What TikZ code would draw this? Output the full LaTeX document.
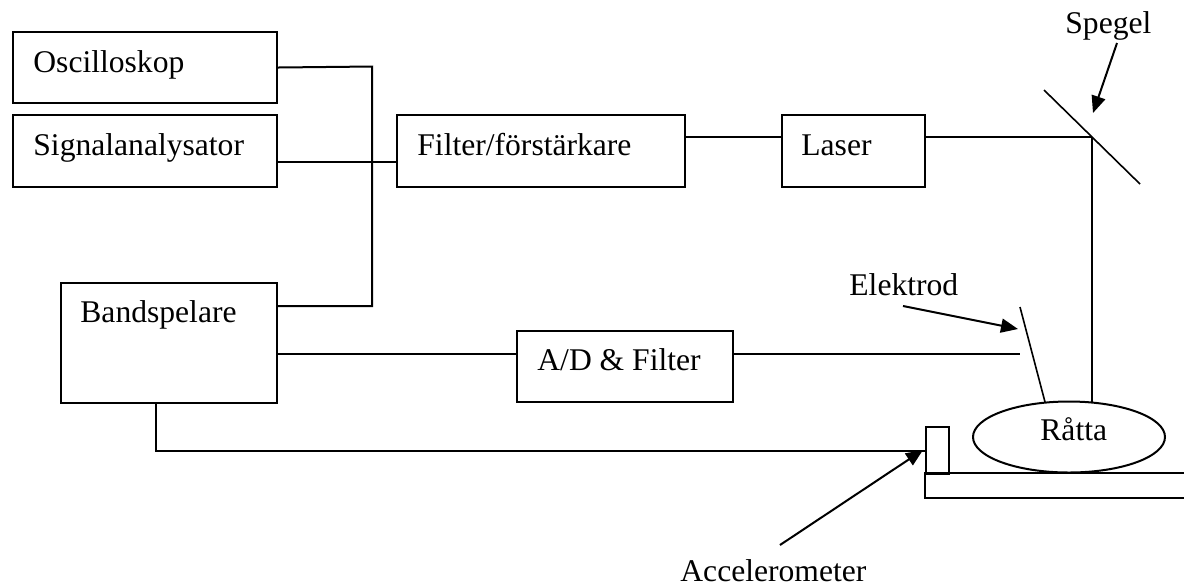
\documentclass[tikz,border=0pt]{standalone}
\usepackage{fontspec}
\setmainfont{Liberation Serif}
\usetikzlibrary{arrows.meta,shapes.geometric}
\begin{document}
\begin{tikzpicture}[x=0.5pt,y=-0.5pt,
  every node/.style={font=\fontsize{15.8pt}{18pt}\selectfont, inner sep=0pt},
  box/.style={draw, line width=1pt, rectangle, anchor=north west, inner sep=0pt},
  wire/.style={line width=1pt},
  thinline/.style={line width=0.8pt},
  lbl/.style={anchor=base west},
  pointer/.style={line width=1pt, -{Triangle[length=8.5pt,width=7pt]}}]
\useasboundingbox (0,0) rectangle (1184,586);

% boxes
\node[box, minimum width=132pt, minimum height=35.5pt] (osc) at (12,31) {};
\node[lbl] (osct) at (33,72) {Oscilloskop};
\node[box, minimum width=132pt, minimum height=36pt] (sig) at (12,114) {};
\node[lbl] (sigt) at (33,155) {Signalanalysator};
\node[box, minimum width=144pt, minimum height=36pt] (filt) at (396,114) {};
\node[lbl] (filtt) at (417,155) {Filter/förstärkare};
\node[box, minimum width=71.5pt, minimum height=36pt] (laser) at (781,114) {};
\node[lbl] (lasert) at (801,155) {Laser};
\node[box, minimum width=108pt, minimum height=60pt] (band) at (60,282) {};
\node[lbl] (bandt) at (80,322) {Bandspelare};
\node[box, minimum width=108pt, minimum height=35.5pt] (ad) at (516,330) {};
\node[lbl] (adt) at (537,370) {A/D \& Filter};
\node[draw, ellipse, line width=1pt, minimum width=96pt, minimum height=35.5pt] (rat) at (1069,437) {};
\node[lbl] (ratt) at (1040,440) {Råtta};
\node[box, minimum width=11.5pt, minimum height=23.5pt] (acc) at (925,426) {};

% labels
\node[lbl] (spegel) at (1065,33) {Spegel};
\node[lbl] (elektrod) at (849,295) {Elektrod};
\node[lbl] (accel) at (680,581) {Accelerometer};

% coordinates
\coordinate (mc) at (1092,137);
\coordinate (m1) at (1044,90);
\coordinate (m2) at (1140,184);
\coordinate (e1) at (1020,307);
\coordinate (e2) at (1045,402);
\coordinate (ein) at (1020,354);
\coordinate (sp1) at (1117,43);
\coordinate (sp2) at (1093,113);
\coordinate (el1) at (903,306);
\coordinate (el2) at (1018,329);
\coordinate (ac1) at (780,545);
\coordinate (ac2) at (923,450);

% connectors
\draw[wire] (osc.east) -- (372,66.5) -- (372,306) -- (band.east |- 0,306);
\draw[wire] (sig.east |- 0,162) -- (filt.west |- 0,162);
\draw[wire] (filt.east |- 0,137) -- (laser.west |- 0,137);
\draw[wire] (laser.east |- mc) -- (mc);
\draw[thinline] (mc) -- (mc |- rat.56);
\draw[thinline] (m1) -- (m2);
\draw[wire] (band.east |- ein) -- (ad.west |- ein);
\draw[wire] (ad.east |- ein) -- (ein);
\draw[thinline] (e1) -- (e2);
\draw[wire] (band.south -| 156,0) |- (acc.west);
\draw[wire] (1184,473) -- (925,473) -- (925,498) -- (1184,498);

% pointers
\draw[pointer] (sp1) -- (sp2);
\draw[pointer] (el1) -- (el2);
\draw[pointer] (ac1) -- (ac2);
\end{tikzpicture}
\end{document}
